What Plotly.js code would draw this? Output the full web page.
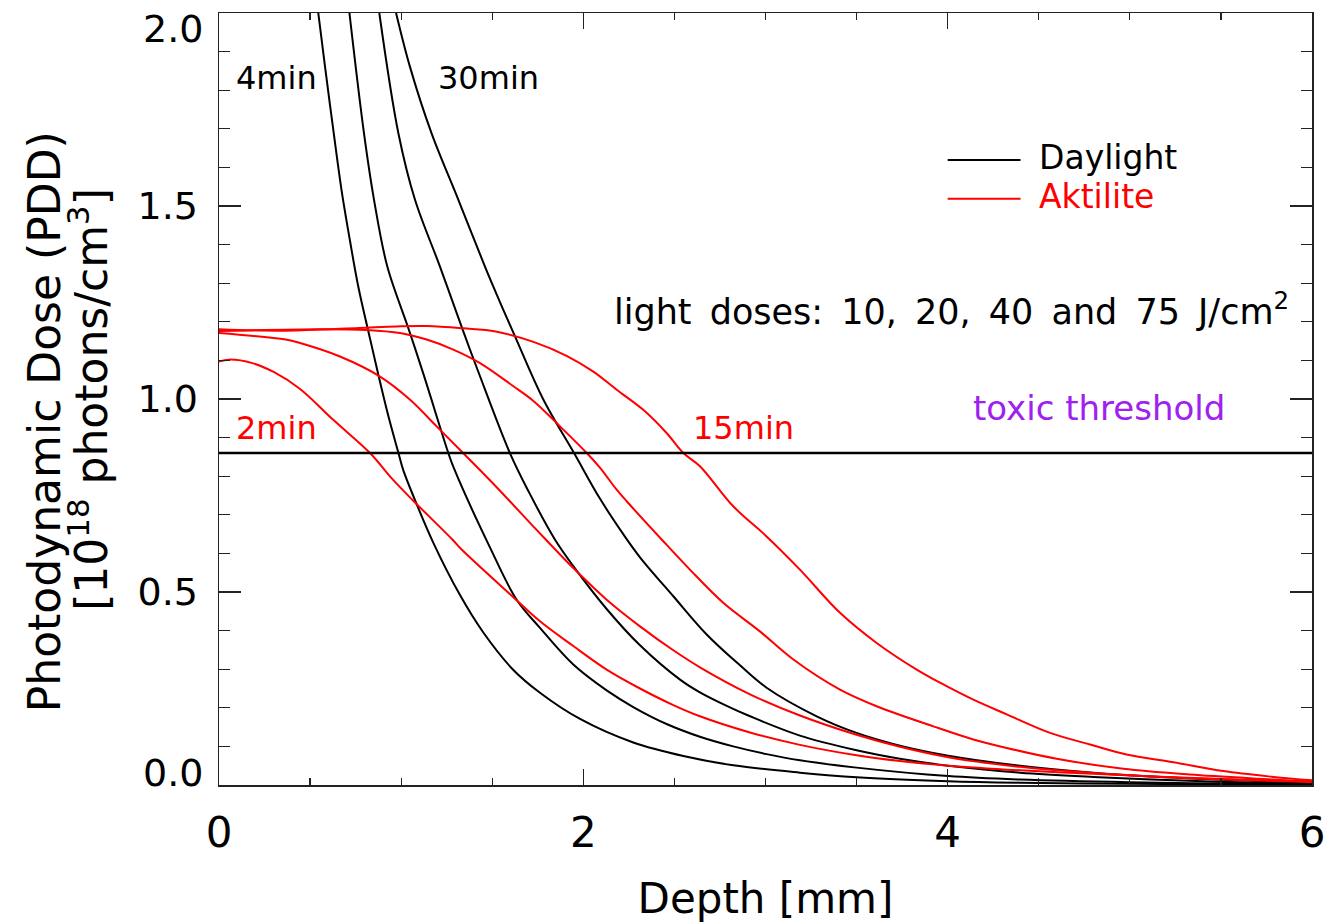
<!DOCTYPE html>
<html>
<head>
<meta charset="utf-8">
<script src="https://cdn.plot.ly/plotly-3.0.1.min.js"></script>
<style>
  html, body { margin: 0; padding: 0; background: #ffffff; }
  #chart { width: 1326px; height: 923px; }
</style>
</head>
<body>
<div id="chart"></div>
<script>
// ---- Data ----
// Daylight (black) curves, light doses 10, 20, 40, 75 J/cm2 (4 min ... 30 min)
const depthDay1 = [0.545,0.582,0.628,0.673,0.719,0.765,0.820,0.875,0.930,0.984,1.012,1.076,1.176,1.323,1.451,1.616,1.762,1.982,2.274,2.549,2.823,3.189,3.500,4.003,4.397,5.0,5.5,6.0];
const doseDay1  = [2.000,1.861,1.695,1.540,1.410,1.290,1.175,1.062,0.955,0.862,0.815,0.738,0.628,0.492,0.395,0.298,0.239,0.171,0.110,0.075,0.051,0.032,0.020,0.010,0.006,0.003,0.002,0.001];

const depthDay2 = [0.716,0.796,0.851,0.924,1.039,1.122,1.259,1.290,1.488,1.634,1.762,1.945,2.128,2.274,2.457,2.640,2.823,3.006,3.189,3.500,4.003,4.397,5.0,5.5,6.0];
const doseDay2  = [2.000,1.688,1.516,1.343,1.184,1.065,0.860,0.820,0.615,0.480,0.407,0.312,0.245,0.202,0.158,0.125,0.100,0.080,0.064,0.045,0.023,0.014,0.007,0.004,0.002];

const depthDay3 = [0.880,0.985,1.076,1.213,1.341,1.424,1.597,1.700,1.844,1.945,2.128,2.311,2.531,2.640,2.787,2.915,3.189,3.500,3.738,4.003,4.397,4.8,5.2,5.6,6.0];
const doseDay3  = [2.000,1.688,1.516,1.343,1.175,1.070,0.860,0.760,0.636,0.567,0.456,0.362,0.273,0.240,0.205,0.178,0.128,0.090,0.068,0.050,0.032,0.021,0.013,0.007,0.004];

const depthDay4 = [0.972,1.048,1.167,1.314,1.460,1.537,1.625,1.781,1.949,2.091,2.219,2.311,2.494,2.677,2.860,3.006,3.281,3.500,3.738,4.003,4.397,4.8,5.2,5.6,6.0];
const doseDay4  = [2.000,1.861,1.688,1.516,1.343,1.257,1.162,0.998,0.860,0.742,0.650,0.590,0.489,0.390,0.310,0.252,0.178,0.135,0.102,0.076,0.050,0.032,0.020,0.012,0.006];

// Aktilite (red) curves, light doses 10, 20, 40, 75 J/cm2 (2 min ... 15 min)
const depthAkt1 = [0,0.055,0.183,0.300,0.445,0.627,0.829,0.951,1.061,1.281,1.332,1.610,1.762,1.945,2.128,2.311,2.494,2.640,2.915,3.189,3.500,3.738,4.003,4.397,4.8,5.2,5.6,6.0];
const doseAkt1  = [1.097,1.102,1.093,1.070,1.026,0.946,0.860,0.793,0.739,0.636,0.610,0.489,0.424,0.360,0.299,0.250,0.207,0.178,0.136,0.104,0.077,0.062,0.050,0.038,0.029,0.021,0.014,0.009];

const depthAkt2 = [0,0.366,0.445,0.664,0.884,1.049,1.195,1.340,1.519,1.725,1.830,1.945,2.128,2.311,2.494,2.640,2.915,3.189,3.500,3.738,4.003,4.397,4.8,5.2,5.6,6.0];
const doseAkt2  = [1.171,1.154,1.145,1.110,1.058,0.998,0.929,0.860,0.774,0.670,0.618,0.562,0.480,0.411,0.349,0.305,0.235,0.180,0.130,0.099,0.072,0.047,0.031,0.020,0.013,0.008];

const depthAkt3 = [0,0.549,0.810,0.994,1.140,1.286,1.433,1.616,1.726,1.872,2.019,2.091,2.183,2.238,2.430,2.585,2.768,2.969,3.153,3.409,3.610,3.921,4.141,4.324,4.598,4.964,5.330,5.788,6.0];
const doseAkt3  = [1.176,1.181,1.179,1.171,1.154,1.128,1.093,1.033,0.995,0.929,0.860,0.822,0.765,0.735,0.636,0.558,0.472,0.398,0.325,0.247,0.204,0.152,0.118,0.096,0.068,0.042,0.027,0.014,0.008];

const depthAkt4 = [0,0.366,0.769,0.975,1.140,1.341,1.519,1.726,1.908,2.055,2.183,2.329,2.457,2.549,2.640,2.823,3.006,3.189,3.409,3.610,3.830,3.958,4.141,4.324,4.562,4.781,4.982,5.239,5.513,5.788,6.0];
const doseAkt4  = [1.181,1.177,1.184,1.188,1.189,1.183,1.175,1.148,1.112,1.071,1.024,0.972,0.912,0.860,0.826,0.722,0.644,0.558,0.446,0.368,0.299,0.265,0.221,0.183,0.135,0.105,0.079,0.059,0.036,0.021,0.012];

// Toxic threshold
const thresholdDepth = [0, 6];
const thresholdDose  = [0.86, 0.86];

// Axis ticks
const xTickVals = [0, 2, 4, 6];
const xTickText = ['0', '2', '4', '6'];
const yTickVals = [0.0, 0.5, 1.0, 1.5, 2.0];
const yTickText = ['0.0', '0.5', '1.0', '1.5', '2.0'];

// Series meta
const seriesNames  = ['Daylight 10 J/cm²', 'Daylight 20 J/cm²', 'Daylight 40 J/cm²', 'Daylight 75 J/cm²',
                      'Aktilite 10 J/cm²', 'Aktilite 20 J/cm²', 'Aktilite 40 J/cm²', 'Aktilite 75 J/cm²'];
const seriesDepths = [depthDay1, depthDay2, depthDay3, depthDay4, depthAkt1, depthAkt2, depthAkt3, depthAkt4];
const seriesDoses  = [doseDay1, doseDay2, doseDay3, doseDay4, doseAkt1, doseAkt2, doseAkt3, doseAkt4];

// ---- Styling ----
const FONT = 'DejaVu Sans, Verdana, sans-serif';
const BLACK = '#000000';
const RED = '#ff0000';
const PURPLE = '#a020f0';
const AXIS = '#222222';

const traces = seriesNames.map((name, i) => ({
  type: 'scatter',
  mode: 'lines',
  name: name,
  x: seriesDepths[i],
  y: seriesDoses[i],
  line: { color: i < 4 ? BLACK : RED, width: 2, shape: 'spline', smoothing: 1 },
  showlegend: false,
  hoverinfo: 'skip'
}));

traces.push({
  type: 'scatter',
  mode: 'lines',
  name: 'toxic threshold',
  x: thresholdDepth,
  y: thresholdDose,
  line: { color: BLACK, width: 2.5 },
  showlegend: false,
  hoverinfo: 'skip'
});

const SP = ' \u2009';
const doseText = ['light', 'doses:', '10,', '20,', '40', 'and', '75', 'J/cm<sup>2</sup>'].join(SP);

// The two end labels of the y axis sit inside the frame (as in the original); the middle ones are axis tick labels.
const yInnerVals = yTickVals.slice(1, 4);
const yInnerText = yTickText.slice(1, 4);
const yLabelFont = { family: FONT, size: 38, color: BLACK };

const layout = {
  width: 1326,
  height: 923,
  paper_bgcolor: '#ffffff',
  plot_bgcolor: '#ffffff',
  margin: { l: 219, r: 14, t: 13, b: 138, pad: 0 },
  font: { family: FONT, color: BLACK },
  showlegend: false,
  xaxis: {
    range: [0, 6],
    tickmode: 'array',
    tickvals: xTickVals,
    ticktext: xTickText,
    ticks: 'inside',
    ticklen: 16,
    tickwidth: 1.5,
    tickcolor: AXIS,
    minor: { dtick: 0.5, ticks: 'inside', ticklen: 7, tickwidth: 1.2, tickcolor: AXIS, showgrid: false },
    showline: true,
    linecolor: AXIS,
    linewidth: 1.5,
    mirror: 'ticks',
    showgrid: false,
    zeroline: false,
    ticklabelstandoff: 10,
    ticklabeloverflow: 'allow',
    tickfont: { family: FONT, size: 42, color: BLACK },
    title: { text: 'Depth [mm]', font: { family: FONT, size: 42, color: BLACK } }
  },
  yaxis: {
    range: [0, 2],
    tickmode: 'array',
    tickvals: yInnerVals,
    ticktext: yInnerText,
    ticks: 'inside',
    ticklen: 22,
    tickwidth: 1.5,
    tickcolor: AXIS,
    minor: { dtick: 0.1, ticks: 'inside', ticklen: 11, tickwidth: 1.2, tickcolor: AXIS, showgrid: false },
    showline: true,
    linecolor: AXIS,
    linewidth: 1.5,
    mirror: 'ticks',
    showgrid: false,
    zeroline: false,
    ticklabelstandoff: 12,
    tickfont: yLabelFont
  },
  shapes: [
    { type: 'line', xref: 'x', yref: 'y', x0: 4.0, x1: 4.4, y0: 1.619, y1: 1.619, line: { color: BLACK, width: 2 } },
    { type: 'line', xref: 'x', yref: 'y', x0: 4.0, x1: 4.4, y0: 1.519, y1: 1.519, line: { color: RED, width: 2 } }
  ],
  annotations: [
    // y-axis end labels
    { xref: 'paper', yref: 'y', x: -0.0125, y: yTickVals[4], text: yTickText[4], showarrow: false,
      xanchor: 'right', yanchor: 'top', yshift: 8, font: yLabelFont },
    { xref: 'paper', yref: 'y', x: -0.0125, y: yTickVals[0], text: yTickText[0], showarrow: false,
      xanchor: 'right', yanchor: 'bottom', yshift: -12, font: yLabelFont },
    // y-axis title (two lines)
    { xref: 'paper', yref: 'paper', x: -0.160, y: 0.470, text: 'Photodynamic Dose (PDD)', textangle: -90,
      showarrow: false, xanchor: 'center', yanchor: 'middle', font: { family: FONT, size: 44, color: BLACK } },
    { xref: 'paper', yref: 'paper', x: -0.120, y: 0.500, text: '[10<sup>18</sup> photons/cm<sup>3</sup>]', textangle: -90,
      showarrow: false, xanchor: 'center', yanchor: 'middle', font: { family: FONT, size: 44, color: BLACK } },
    // curve labels
    { xref: 'x', yref: 'y', x: 0.318, y: 1.832, text: '4min', showarrow: false, font: { family: FONT, size: 32, color: BLACK } },
    { xref: 'x', yref: 'y', x: 1.479, y: 1.832, text: '30min', showarrow: false, font: { family: FONT, size: 32, color: BLACK } },
    { xref: 'x', yref: 'y', x: 0.318, y: 0.926, text: '2min', showarrow: false, font: { family: FONT, size: 32, color: RED } },
    { xref: 'x', yref: 'y', x: 2.879, y: 0.926, text: '15min', showarrow: false, font: { family: FONT, size: 32, color: RED } },
    // legend texts
    { xref: 'x', yref: 'y', x: 4.49, y: 1.625, text: 'Daylight', showarrow: false, xanchor: 'left', font: { family: FONT, size: 33, color: BLACK } },
    { xref: 'x', yref: 'y', x: 4.49, y: 1.525, text: 'Aktilite', showarrow: false, xanchor: 'left', font: { family: FONT, size: 33, color: RED } },
    // other texts
    { xref: 'x', yref: 'y', x: 4.021, y: 1.232, text: doseText, showarrow: false,
      font: { family: FONT, size: 35, color: BLACK } },
    { xref: 'x', yref: 'y', x: 4.828, y: 0.977, text: 'toxic threshold', showarrow: false,
      font: { family: FONT, size: 34, color: PURPLE } }
  ]
};

Plotly.newPlot('chart', traces, layout, { staticPlot: true, displayModeBar: false });
</script>
</body>
</html>
